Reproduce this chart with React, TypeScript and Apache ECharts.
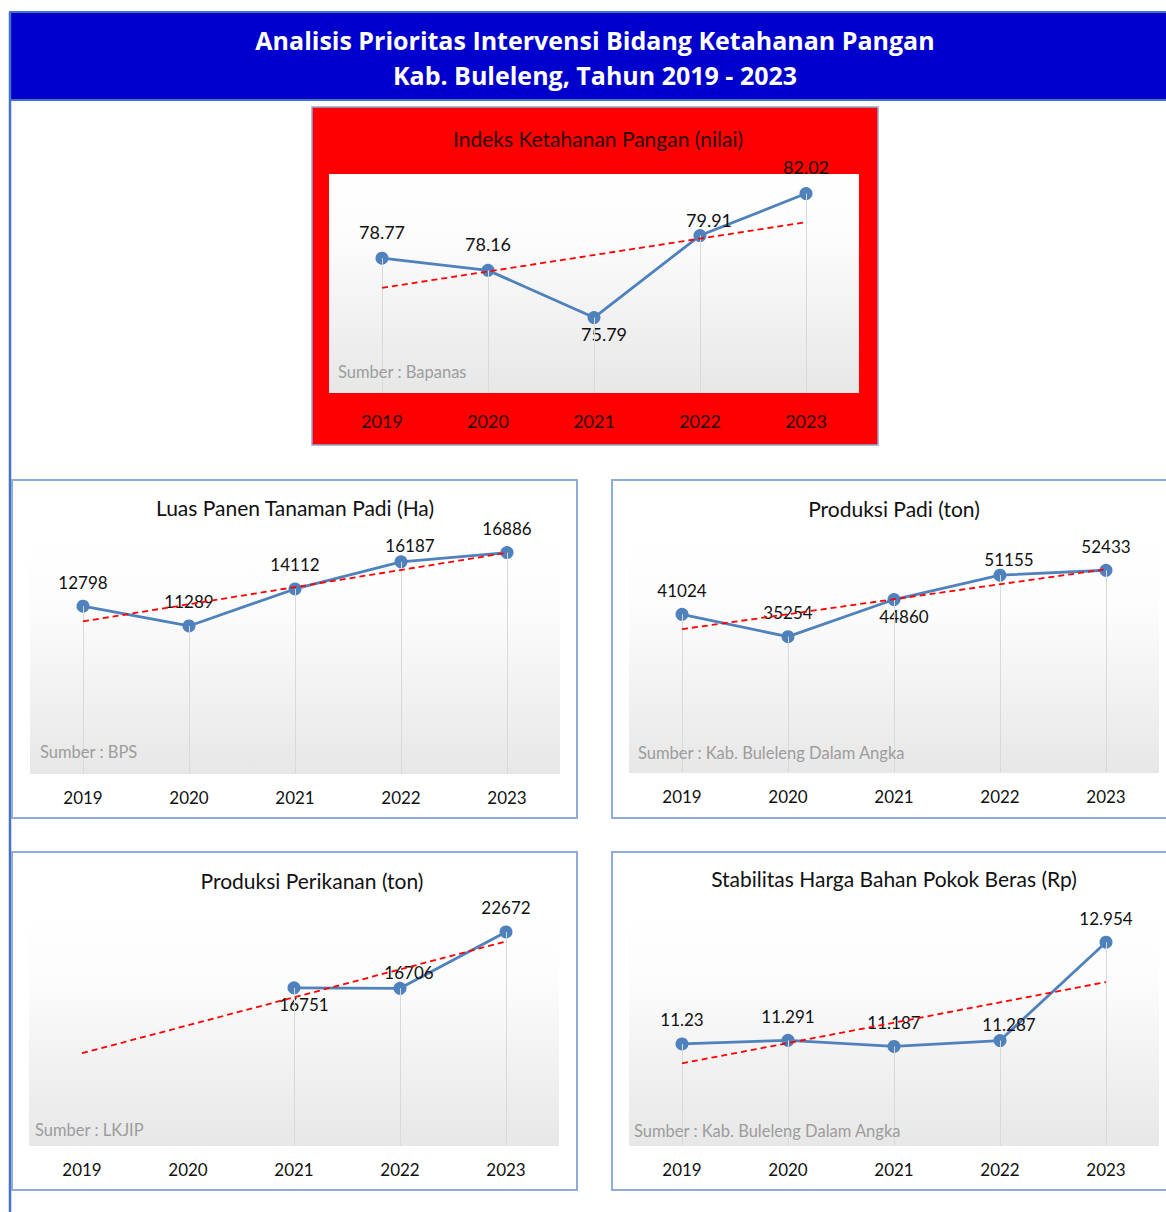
import React, { useEffect, useRef } from 'react';
import * as echarts from 'echarts';

// ---------- DATA ----------
const years = ['2019', '2020', '2021', '2022', '2023'];

const ikpValues = [78.77, 78.16, 75.79, 79.91, 82.02];
const ikpTrend = [77.28, null, null, null, 80.58];

const luasPanenValues = [12798, 11289, 14112, 16187, 16886];
const luasPanenTrend = [11640, null, null, null, 16869];

const produksiPadiValues = [41024, 35254, 44860, 51155, 52433];
const produksiPadiTrend = [37201, null, null, null, 52689];

const perikananValues = [null, null, 16751, 16706, 22672];
const perikananTrend = [9828, null, null, null, 21670];

const berasValues = [11.23, 11.291, 11.187, 11.287, 12.954];
const berasTrend = [10.901, null, null, null, 12.279];

const headerLine1 = 'Analisis Prioritas Intervensi Bidang Ketahanan Pangan';
const headerLine2 = 'Kab. Buleleng, Tahun 2019 - 2023';

const chartTitles = [
  'Indeks Ketahanan Pangan (nilai)',
  'Luas Panen Tanaman Padi (Ha)',
  'Produksi Padi (ton)',
  'Produksi Perikanan (ton)',
  'Stabilitas Harga Bahan Pokok Beras (Rp)',
];
const sources = [
  'Sumber : Bapanas',
  'Sumber : BPS',
  'Sumber : Kab. Buleleng Dalam Angka',
  'Sumber : LKJIP',
  'Sumber : Kab. Buleleng Dalam Angka',
];

// ---------- LAYOUT ----------
const FONT = 'Lato';
const LINE_BLUE = '#4F81BD';

type Panel = {
  values: (number | null)[];
  trend: (number | null)[];
  yMin: number;
  yMax: number;
  grid: { left: number; top: number; width: number; height: number };
  placements: string[];
  labelSize: number;
  labelColor: string;
  axisColor: string;
  axisSize: number;
  axisMargin: number;
  title: { x: number; y: number; size: number; color: string };
  source: { x: number; y: number };
};

const panels: Panel[] = [
  {
    values: ikpValues, trend: ikpTrend, yMin: 72, yMax: 83,
    grid: { left: 329, top: 174, width: 530, height: 219 },
    placements: ['top', 'top', 'bottomRight', 'topRight', 'top'],
    labelSize: 18, labelColor: '#111', axisColor: '#2a0000', axisSize: 18, axisMargin: 19,
    title: { x: 598, y: 138, size: 21, color: '#2a0000' },
    source: { x: 338, y: 372 },
  },
  {
    values: luasPanenValues, trend: luasPanenTrend, yMin: 0, yMax: 18000,
    grid: { left: 30, top: 538, width: 530, height: 236 },
    placements: ['top', 'top', 'top', 'topRight', 'top'],
    labelSize: 17, labelColor: '#111', axisColor: '#111', axisSize: 17, axisMargin: 15,
    title: { x: 295, y: 507, size: 21, color: '#111' },
    source: { x: 40, y: 752 },
  },
  {
    values: produksiPadiValues, trend: produksiPadiTrend, yMin: 0, yMax: 60000,
    grid: { left: 629, top: 541, width: 530, height: 232 },
    placements: ['top', 'top', 'bottomRight', 'topRight', 'top'],
    labelSize: 17, labelColor: '#111', axisColor: '#111', axisSize: 17, axisMargin: 15,
    title: { x: 894, y: 508, size: 21, color: '#111' },
    source: { x: 638, y: 753 },
  },
  {
    values: perikananValues, trend: perikananTrend, yMin: 0, yMax: 25000,
    grid: { left: 29, top: 910, width: 530, height: 236 },
    placements: ['top', 'top', 'bottomRight', 'topRight', 'top'],
    labelSize: 17, labelColor: '#111', axisColor: '#111', axisSize: 17, axisMargin: 15,
    title: { x: 312, y: 880, size: 21, color: '#111' },
    source: { x: 35, y: 1130 },
  },
  {
    values: berasValues, trend: berasTrend, yMin: 9.5, yMax: 13.5,
    grid: { left: 629, top: 910, width: 530, height: 236 },
    placements: ['top', 'top', 'top', 'topRight', 'top'],
    labelSize: 17, labelColor: '#111', axisColor: '#111', axisSize: 17, axisMargin: 15,
    title: { x: 894, y: 878, size: 21, color: '#111' },
    source: { x: 634, y: 1131 },
  },
];

function labelFor(place: string, size: number) {
  const big = size >= 18;
  if (place === 'topRight') {
    return { position: 'top', distance: big ? 11 : 9, offset: [9, big ? 11 : 8] };
  }
  if (place === 'bottomRight') {
    return { position: 'bottom', distance: big ? 1 : 2, offset: [10, 0] };
  }
  return { position: 'top', distance: big ? 11 : 9, offset: [0, 0] };
}

function plotGradient() {
  return new echarts.graphic.LinearGradient(0, 0, 0, 1, [
    { offset: 0, color: '#ffffff' },
    { offset: 0.3, color: '#fcfcfc' },
    { offset: 1, color: '#e7e7e7' },
  ]);
}

function buildOption() {
  const grids: any[] = [];
  const xAxes: any[] = [];
  const yAxes: any[] = [];
  const series: any[] = [];
  const graphic: any[] = [];

  // page frame
  graphic.push({
    type: 'rect', z: 0,
    shape: { x: 10, y: 12, width: 1170, height: 88 },
    style: { fill: '#0000CC', stroke: '#4472C4', lineWidth: 2 },
  });
  graphic.push({
    type: 'line', z: 0,
    shape: { x1: 10, y1: 12, x2: 10, y2: 1215 },
    style: { stroke: '#4472C4', lineWidth: 2.5 },
  });
  [headerLine1, headerLine2].forEach((t, i) => {
    graphic.push({
      type: 'text', z: 20, x: 595, y: i === 0 ? 40 : 75,
      style: {
        text: t, fill: '#ffffff', fontSize: 25, fontWeight: 'bold', fontFamily: 'Open Sans',
        align: 'center', verticalAlign: 'middle', textAlign: 'center', textVerticalAlign: 'middle',
      },
    });
  });

  // panel backgrounds
  graphic.push({
    type: 'rect', z: 0,
    shape: { x: 312, y: 107, width: 566, height: 338 },
    style: { fill: '#FF0000', stroke: '#8EA9DB', lineWidth: 1.5 },
  });
  const boxes = [
    { x: 12, y: 480, width: 565, height: 338 },
    { x: 612, y: 480, width: 600, height: 338 },
    { x: 12, y: 852, width: 565, height: 338 },
    { x: 612, y: 852, width: 600, height: 338 },
  ];
  boxes.forEach((b) => {
    graphic.push({
      type: 'rect', z: 0, shape: b,
      style: { fill: '#ffffff', stroke: '#8FAADC', lineWidth: 2 },
    });
  });

  panels.forEach((p, k) => {
    grids.push({
      ...p.grid, show: true, z: 1, borderWidth: 0,
      backgroundColor: plotGradient(), containLabel: false,
    });
    xAxes.push({
      type: 'category', gridIndex: k, data: years, boundaryGap: true,
      axisLine: { show: false }, axisTick: { show: false }, splitLine: { show: false },
      axisLabel: {
        color: p.axisColor, fontSize: p.axisSize, fontFamily: FONT, margin: p.axisMargin,
        interval: 0,
      },
    });
    yAxes.push({
      type: 'value', gridIndex: k, min: p.yMin, max: p.yMax, show: false,
      splitLine: { show: false },
    });

    const dropLines: any[] = [];
    p.values.forEach((v, i) => {
      if (v == null) return;
      dropLines.push([
        { coord: [years[i], v] },
        { coord: [years[i], p.yMin] },
      ]);
    });

    series.push({
      type: 'line', xAxisIndex: k, yAxisIndex: k, z: 3,
      data: p.values.map((v, i) => (v == null ? null : { value: v, label: labelFor(p.placements[i], p.labelSize) })),
      connectNulls: false,
      symbol: 'circle', symbolSize: 13,
      lineStyle: { color: LINE_BLUE, width: 2.8 },
      itemStyle: { color: LINE_BLUE },
      label: {
        show: true, color: p.labelColor, fontSize: p.labelSize, fontFamily: FONT,
      },
      markLine: {
        silent: true, symbol: ['none', 'none'], animation: false,
        label: { show: false },
        lineStyle: { color: '#d9d9d9', width: 1, type: 'solid' },
        emphasis: { disabled: true },
        data: dropLines,
      },
    });
    series.push({
      type: 'line', xAxisIndex: k, yAxisIndex: k, z: 6,
      data: p.trend, connectNulls: true, symbol: 'none',
      lineStyle: { color: '#FF0000', width: 1.8, type: [6, 4] },
      silent: true,
    });

    graphic.push({
      type: 'text', z: 20, x: p.title.x, y: p.title.y,
      style: {
        text: chartTitles[k], fill: p.title.color, fontSize: p.title.size, fontFamily: FONT,
        align: 'center', verticalAlign: 'middle', textAlign: 'center', textVerticalAlign: 'middle',
      },
    });
    graphic.push({
      type: 'text', z: 20, x: p.source.x, y: p.source.y,
      style: {
        text: sources[k], fill: '#9c9c9c', fontSize: 16.5, fontFamily: FONT,
        align: 'left', verticalAlign: 'middle', textAlign: 'left', textVerticalAlign: 'middle',
      },
    });
  });

  return {
    animation: false,
    backgroundColor: '#ffffff',
    grid: grids,
    xAxis: xAxes,
    yAxis: yAxes,
    series,
    graphic: { elements: graphic },
  };
}

export default function App() {
  const ref = useRef<HTMLDivElement>(null);
  useEffect(() => {
    if (!ref.current) return;
    const chart = echarts.init(ref.current, undefined, { renderer: 'svg' });
    chart.setOption(buildOption() as any);
    return () => chart.dispose();
  }, []);
  return (
    <div
      ref={ref}
      style={{ position: 'absolute', left: 0, top: 0, width: 1166, height: 1212 }}
    />
  );
}
